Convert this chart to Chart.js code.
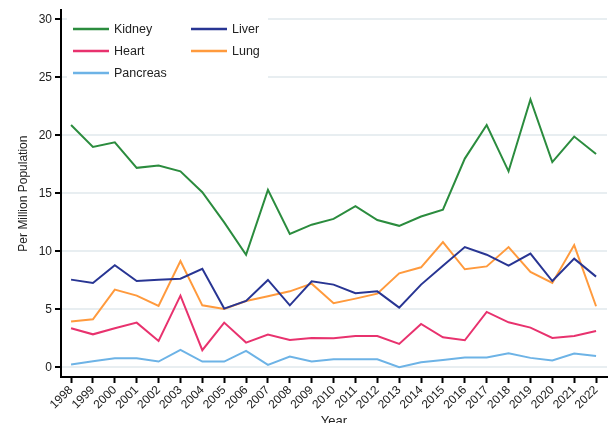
<!DOCTYPE html>
<html>
<head>
<meta charset="utf-8">
<script src="https://cdn.jsdelivr.net/npm/chart.js@4/dist/chart.umd.min.js"></script>
<style>
  html, body { margin: 0; padding: 0; background: #fff; }
  #wrap { width: 611px; height: 423px; }
</style>
</head>
<body>
<div id="wrap"><canvas id="chart" width="611" height="423"></canvas></div>
<script>
// Organ donation rates per million population, 1998-2022
const years = [1998,1999,2000,2001,2002,2003,2004,2005,2006,2007,2008,2009,2010,
               2011,2012,2013,2014,2015,2016,2017,2018,2019,2020,2021,2022];
const kidney   = [20.9,19.0,19.4,17.2,17.4,16.9,15.1,12.5,9.7,15.3,11.5,12.3,12.8,
                  13.9,12.7,12.2,13.0,13.6,18.0,20.9,16.9,23.1,17.7,19.9,18.4];
const liver    = [7.56,7.27,8.8,7.44,7.55,7.64,8.5,5.06,5.72,7.53,5.34,7.41,7.13,
                  6.38,6.55,5.14,7.13,8.75,10.37,9.71,8.76,9.8,7.44,9.37,7.82];
const heart    = [3.36,2.84,3.36,3.85,2.27,6.18,1.47,3.85,2.13,2.82,2.36,2.53,2.5,
                  2.7,2.7,2.01,3.74,2.59,2.33,4.77,3.88,3.42,2.53,2.7,3.13];
const lung     = [3.94,4.14,6.7,6.18,5.29,9.17,5.34,5.03,5.72,6.12,6.55,7.21,5.52,
                  5.92,6.35,8.1,8.62,10.8,8.45,8.7,10.37,8.22,7.27,10.54,5.26];
const pancreas = [0.23,0.52,0.78,0.78,0.49,1.49,0.49,0.49,1.41,0.2,0.92,0.49,0.69,
                  0.69,0.69,0.0,0.43,0.63,0.84,0.84,1.21,0.81,0.58,1.18,0.97];
const yTicks = [0, 5, 10, 15, 20, 25, 30];

function pts(vals) { return years.map((y, i) => ({ x: y, y: vals[i] })); }

const FONT = 'Liberation Sans, Arial, sans-serif';

// legend drawn in two columns inside the plot, top-left
const gridLegend = {
  id: 'gridLegend',
  afterDraw(chart) {
    const ctx = chart.ctx;
    ctx.save();
    ctx.fillStyle = '#fff';
    ctx.fillRect(67, 15, 201, 66);
    chart.data.datasets.forEach((ds, i) => {
      const x = 73 + (i % 2) * 118;
      const y = 29 + Math.floor(i / 2) * 22;
      ctx.strokeStyle = ds.borderColor;
      ctx.lineWidth = 2.5;
      ctx.beginPath();
      ctx.moveTo(x, y);
      ctx.lineTo(x + 36, y);
      ctx.stroke();
      ctx.fillStyle = '#222';
      ctx.font = '12.5px ' + FONT;
      ctx.textBaseline = 'middle';
      ctx.fillText(ds.label, x + 41, y + 0.5);
    });
    ctx.restore();
  }
};

function line(label, color, vals) {
  return { label, data: pts(vals), borderColor: color, backgroundColor: color,
           borderWidth: 2, pointRadius: 0, tension: 0, fill: false };
}

new Chart(document.getElementById('chart'), {
  type: 'line',
  data: {
    datasets: [
      line('Kidney', '#2b8c3e', kidney),
      line('Liver', '#283593', liver),
      line('Heart', '#e8326e', heart),
      line('Lung', '#ff9a3d', lung),
      line('Pancreas', '#6db3e6', pancreas)
    ]
  },
  options: {
    responsive: false,
    animation: false,
    layout: { padding: { top: 10, right: 4, left: 0, bottom: 0 } },
    plugins: { legend: { display: false }, tooltip: { enabled: false } },
    scales: {
      x: {
        type: 'linear',
        min: 1997.54,
        max: 2022.5,
        afterBuildTicks: s => { s.ticks = years.map(v => ({ value: v })); },
        afterFit: s => { s.height = 46; },
        border: { color: '#000', width: 2 },
        grid: { drawOnChartArea: false, tickColor: '#000', tickLength: 6, tickWidth: 2 },
        ticks: {
          autoSkip: false, minRotation: 45, maxRotation: 45, padding: 0,
          color: '#222', font: { family: FONT, size: 12 },
          callback: v => String(v)
        },
        title: { display: true, text: 'Year', color: '#222',
                 font: { family: FONT, size: 13 }, padding: { top: 0, bottom: -6 } }
      },
      y: {
        min: -0.84,
        max: 30.8,
        afterBuildTicks: s => { s.ticks = yTicks.map(v => ({ value: v })); },
        afterFit: s => { s.width = 61; },
        border: { color: '#000', width: 2 },
        grid: { color: '#e8eef1', lineWidth: 2, tickColor: '#000', tickLength: 6, tickWidth: 2 },
        ticks: { color: '#222', font: { family: FONT, size: 12 }, padding: 3 },
        title: { display: true, text: 'Per Million Population', color: '#222',
                 font: { family: FONT, size: 12 }, padding: { top: 16, bottom: 0 } }
      }
    }
  },
  plugins: [gridLegend]
});
</script>
</body>
</html>
